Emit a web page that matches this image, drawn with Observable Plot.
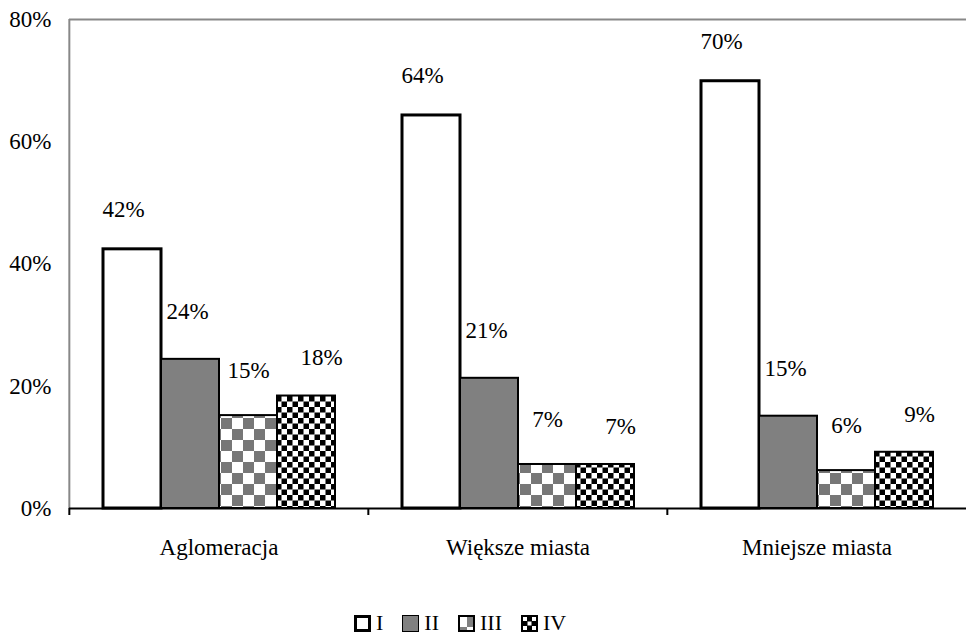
<!DOCTYPE html>
<html>
<head>
<meta charset="utf-8">
<script src="https://cdn.jsdelivr.net/npm/d3@7"></script>
<script src="https://cdn.jsdelivr.net/npm/@observablehq/plot@0.6"></script>
<style>
  html, body { margin: 0; padding: 0; background: #fff; }
  body { width: 966px; height: 634px; overflow: hidden; position: relative; font-family: "Liberation Serif", "Times New Roman", serif; }
  #chart svg, #chart svg text { font-family: "Liberation Serif", "Times New Roman", serif !important; }
  #legend { position: absolute; left: 354px; top: 610px; display: flex; align-items: center; font-size: 22px; height: 26px; line-height: 26px; }
  #legend .item { display: flex; align-items: center; margin-right: 19px; }
  #legend svg { margin-right: 5px; display: block; }
</style>
</head>
<body>
<svg width="0" height="0" style="position:absolute">
  <defs>
    <pattern id="patIII" patternUnits="userSpaceOnUse" width="22" height="22">
      <rect width="22" height="22" fill="#fff"/>
      <rect x="0" y="0" width="11" height="11" fill="#777"/>
      <rect x="11" y="11" width="11" height="11" fill="#777"/>
    </pattern>
    <pattern id="patIV" patternUnits="userSpaceOnUse" width="11" height="11">
      <rect width="11" height="11" fill="#fff"/>
      <rect x="0" y="0" width="5.5" height="5.5" fill="#000"/>
      <rect x="5.5" y="5.5" width="5.5" height="5.5" fill="#000"/>
    </pattern>
  </defs>
</svg>
<div id="chart"></div>
<div id="legend"></div>
<script>
const categories = ["Aglomeracja", "Większe miasta", "Mniejsze miasta"];
const seriesNames = ["I", "II", "III", "IV"];
const valuesI   = [42.4, 64.3, 69.9];
const valuesII  = [24.4, 21.3, 15.1];
const valuesIII = [15.2, 7.2, 6.2];
const valuesIV  = [18.4, 7.2, 9.2];
const yTicks = [0, 20, 40, 60, 80];

const seriesValues = [valuesI, valuesII, valuesIII, valuesIV];
const fills = {I: "#fff", II: "#808080", III: "url(#patIII)", IV: "url(#patIV)"};
const strokeW = {I: 3, II: 2, III: 2, IV: 2};
// label placement offsets (style), per series
const labelDx = {I: -9, II: -3, III: 0, IV: 15};
const labelDy = {I: -40, II: -48, III: -45, IV: -38};

const data = [];
categories.forEach((c, ci) => seriesNames.forEach((s, si) => data.push({cat: c, series: s, value: seriesValues[si][ci]})));

const W = 966, H = 600, ML = 68, MR = 0, MT = 19, MB = 92;
const facetW = (W - ML - MR) / categories.length;
const FONT = "Liberation Serif, Times New Roman, serif";
const FS = 23;

const barMarks = seriesNames.map(s => Plot.barY(data.filter(d => d.series === s), {
  fx: "cat", x: "series", y: "value",
  fill: fills[s], stroke: "#000", strokeWidth: strokeW[s]
}));
const labelMarks = seriesNames.map(s => Plot.text(data.filter(d => d.series === s), {
  fx: "cat", x: "series", y: "value", text: d => Math.round(d.value) + "%",
  dx: labelDx[s], dy: labelDy[s], fontSize: FS, fontFamily: FONT
}));

const chart = Plot.plot({
  width: W, height: H,
  marginLeft: ML, marginRight: MR, marginTop: MT, marginBottom: MB,
  style: {fontFamily: FONT, fontSize: FS + "px", color: "#000", background: "#fff"},
  fx: {domain: categories, padding: 0, label: null},
  x: {domain: seriesNames, paddingInner: 0, paddingOuter: 0.57, axis: null, label: null},
  y: {domain: [0, 80], ticks: yTicks, label: null},
  marks: [
    Plot.ruleY([80], {stroke: "#888", strokeWidth: 2}),
    Plot.ruleX([categories[0]], {fx: d => d, x: null, dx: -facetW / 2, stroke: "#888", strokeWidth: 2}),
    ...barMarks,
    Plot.ruleY([0], {stroke: "#000", strokeWidth: 2}),
    Plot.ruleX(categories, {fx: d => d, x: null, y1: 0, y2: 0, insetBottom: -7, dx: -facetW / 2, stroke: "#000", strokeWidth: 2}),
    ...labelMarks,
    Plot.axisY({ticks: yTicks, tickFormat: d => d + "%", tickSize: 0, tickPadding: 18, fontSize: FS, fontFamily: FONT, label: null}),
    Plot.axisFx({anchor: "bottom", tickSize: 0, tickPadding: 30, fontSize: FS, fontFamily: FONT, label: null})
  ]
});
document.getElementById("chart").appendChild(chart);

// legend
const legend = document.getElementById("legend");
const swatch = {
  I: '<rect x="1.5" y="1.5" width="14" height="14" fill="#fff" stroke="#000" stroke-width="3"/>',
  II: '<rect x="0.5" y="0.5" width="16" height="16" fill="#808080" stroke="#000" stroke-width="1"/>',
  III: '<rect x="1" y="1" width="15" height="15" fill="#fff" stroke="#000" stroke-width="2"/><rect x="9" y="2" width="6" height="10" fill="#808080"/><rect x="2" y="12" width="7" height="3" fill="#808080"/>',
  IV: '<rect x="0" y="0" width="17" height="17" fill="#000"/><rect x="2" y="2" width="4" height="4" fill="#fff"/><rect x="11" y="2" width="4" height="4" fill="#fff"/><rect x="6.5" y="6.5" width="4" height="4" fill="#fff"/><rect x="2" y="11" width="4" height="4" fill="#fff"/><rect x="11" y="11" width="4" height="4" fill="#fff"/>'
};
seriesNames.forEach(s => {
  const item = document.createElement("div");
  item.className = "item";
  item.innerHTML = `<svg width="17" height="17">${swatch[s]}</svg><span>${s}</span>`;
  legend.appendChild(item);
});
</script>
</body>
</html>
